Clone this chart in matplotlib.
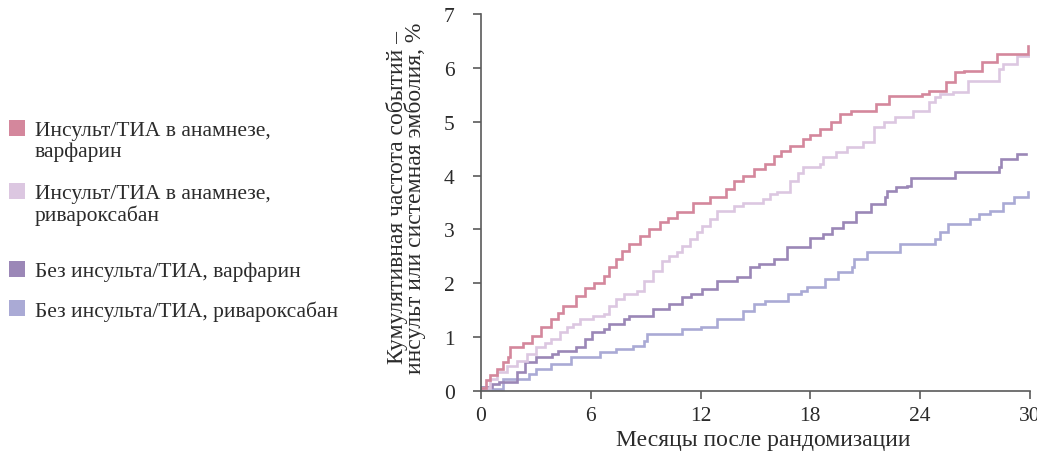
import matplotlib
matplotlib.use("Agg")
import matplotlib.pyplot as plt
from matplotlib.patches import Rectangle

# ---- data ----
labels = [
    "Инсульт/ТИА в анамнезе,\nварфарин",
    "Инсульт/ТИА в анамнезе,\nривароксабан",
    "Без инсульта/ТИА, варфарин",
    "Без инсульта/ТИА, ривароксабан",
]
colors = ["#d4879c", "#dcc7e1", "#9b87b7", "#aaaad5"]

stroke_warfarin = [
    (0, 0.05), (0.3, 0.2), (0.5, 0.3), (0.9, 0.41), (1.2, 0.53), (1.5, 0.63),
    (1.6, 0.81), (2.3, 0.9), (2.8, 1.03), (3.3, 1.18), (3.8, 1.34), (4.2, 1.45),
    (4.5, 1.58), (5.2, 1.77), (5.7, 1.92), (6.2, 2.0), (6.7, 2.14), (7.0, 2.3),
    (7.4, 2.45), (7.7, 2.6), (8.1, 2.73), (8.7, 2.88), (9.2, 3.0), (9.8, 3.13),
    (10.2, 3.22), (10.7, 3.32), (11.6, 3.5), (12.5, 3.6), (13.4, 3.75),
    (13.8, 3.9), (14.3, 4.0), (14.9, 4.12), (15.5, 4.22), (16.0, 4.36),
    (16.4, 4.45), (16.9, 4.55), (17.6, 4.68), (18.0, 4.76), (18.5, 4.86),
    (19.1, 4.99), (19.6, 5.14), (20.2, 5.2), (21.6, 5.33), (22.3, 5.48),
    (24.1, 5.52), (24.5, 5.57), (25.4, 5.73), (25.9, 5.92), (26.4, 5.94),
    (27.4, 6.1), (28.2, 6.25), (29.9, 6.4),
]
stroke_rivaroxaban = [
    (0, 0.05), (0.5, 0.22), (0.9, 0.35), (1.4, 0.47), (1.95, 0.56), (2.5, 0.69),
    (3.0, 0.81), (3.5, 0.9), (3.8, 0.97), (4.3, 1.09), (4.7, 1.18), (5.0, 1.25),
    (5.4, 1.34), (6.1, 1.4), (6.7, 1.43), (7.0, 1.58), (7.4, 1.7), (7.8, 1.8),
    (8.5, 1.86), (8.9, 2.05), (9.4, 2.23), (9.9, 2.42), (10.3, 2.5), (10.7, 2.58),
    (11.0, 2.7), (11.4, 2.82), (11.8, 2.95), (12.1, 3.07), (12.5, 3.2),
    (12.9, 3.35), (13.8, 3.44), (14.3, 3.5), (15.4, 3.56), (15.8, 3.66),
    (16.2, 3.69), (16.9, 3.9), (17.3, 4.05), (17.6, 4.16), (18.5, 4.21),
    (18.7, 4.34), (19.4, 4.44), (20.0, 4.53), (20.9, 4.62), (21.5, 4.9),
    (22.0, 4.99), (22.6, 5.09), (23.6, 5.2), (24.5, 5.37), (24.8, 5.45),
    (25.1, 5.51), (25.8, 5.55), (26.6, 5.76), (28.3, 5.98), (28.5, 6.07),
    (29.3, 6.22), (30.0, 6.22),
]
nostroke_warfarin = [
    (0, 0.07), (0.6, 0.13), (1.0, 0.16), (1.95, 0.35), (2.4, 0.53), (3.0, 0.63),
    (3.9, 0.69), (4.2, 0.75), (5.2, 0.81), (5.7, 0.97), (6.05, 1.09), (6.7, 1.15),
    (7.0, 1.24), (7.8, 1.34), (8.1, 1.4), (9.4, 1.52), (10.3, 1.62), (11.0, 1.74),
    (11.5, 1.8), (12.1, 1.9), (12.9, 2.04), (14.0, 2.12), (14.7, 2.3),
    (15.2, 2.36), (16.0, 2.45), (16.7, 2.67), (18.0, 2.85), (18.7, 2.91),
    (19.2, 3.02), (19.8, 3.13), (20.5, 3.32), (21.3, 3.47), (22.1, 3.6),
    (22.2, 3.71), (22.7, 3.79), (23.3, 3.81), (23.5, 3.95), (25.9, 4.06),
    (28.3, 4.16), (28.4, 4.3), (29.3, 4.4), (29.8, 4.4),
]
nostroke_rivaroxaban = [
    (0, 0.04), (1.2, 0.22), (2.6, 0.32), (3.0, 0.41), (3.8, 0.5), (4.9, 0.63),
    (6.5, 0.72), (7.4, 0.78), (8.3, 0.84), (8.9, 0.93), (9.05, 1.06),
    (11.0, 1.15), (12.0, 1.18), (12.9, 1.34), (14.3, 1.49), (14.9, 1.62),
    (15.5, 1.67), (16.8, 1.8), (17.5, 1.86), (17.8, 1.93), (18.8, 2.08),
    (19.5, 2.21), (20.3, 2.3), (20.4, 2.45), (21.1, 2.58), (22.9, 2.73),
    (24.8, 2.82), (25.1, 2.95), (25.5, 3.1), (26.7, 3.19), (27.2, 3.29),
    (27.8, 3.34), (28.5, 3.5), (29.1, 3.6), (29.9, 3.69),
]
series = [stroke_warfarin, stroke_rivaroxaban, nostroke_warfarin, nostroke_rivaroxaban]

x_ticks = [0, 6, 12, 18, 24, 30]
y_ticks = [0, 1, 2, 3, 4, 5, 6, 7]
x_label = "Месяцы после рандомизации"
y_label = "Кумулятивная частота событий –\nинсульт или системная эмболия, %"

# ---- figure ----
W, H = 1037, 452
plt.rcParams["font.family"] = ["Liberation Serif", "DejaVu Serif"]
text_color = "#2b2b2b"
axis_color = "#5a5a5a"
fs = 15.5
fs_axis = 17

fig = plt.figure(figsize=(W / 100, H / 100), dpi=100)
ax = fig.add_axes([481 / W, 1 - 392 / H, (1030 - 481) / W, (392 - 15) / H])

for data, c in zip(series[::-1], colors[::-1]):
    t = [p[0] for p in data]
    v = [p[1] for p in data]
    ax.plot(t, v, drawstyle="steps-post", color=c, lw=1.9, solid_joinstyle="miter")

ax.set_xlim(0, 30)
ax.set_ylim(0, 7)
ax.set_xticks(x_ticks)
ax.set_yticks(y_ticks)
for s in ["top", "right"]:
    ax.spines[s].set_visible(False)
for s in ["left", "bottom"]:
    ax.spines[s].set_color(axis_color)
    ax.spines[s].set_linewidth(1.2)
ax.tick_params(axis="both", direction="out", length=6, width=1.2, color=axis_color,
               labelsize=fs, labelcolor=text_color)
ax.tick_params(axis="y", pad=13)
ax.tick_params(axis="x", pad=5)

def px(x, y):
    return x / W, 1 - y / H

# axis labels
fig.text(*px(406, 198), y_label, rotation=90, ha="center", va="center",
         multialignment="center", fontsize=fs_axis, color=text_color, linespacing=0.82)
fig.text(*px(763, 441), x_label, ha="center", va="center", fontsize=fs_axis,
         color=text_color)

# legend
sq_tops = [121, 184, 262, 301]
for lab, c, top in zip(labels, colors, sq_tops):
    fig.add_artist(Rectangle(px(9, top + 16), 16 / W, 16 / H, transform=fig.transFigure,
                             facecolor=c, edgecolor="none"))
    fig.text(*px(35, top + 1), lab, ha="left", va="top", fontsize=fs,
             color=text_color, linespacing=1.07)

fig.savefig("out.png", dpi=100)
